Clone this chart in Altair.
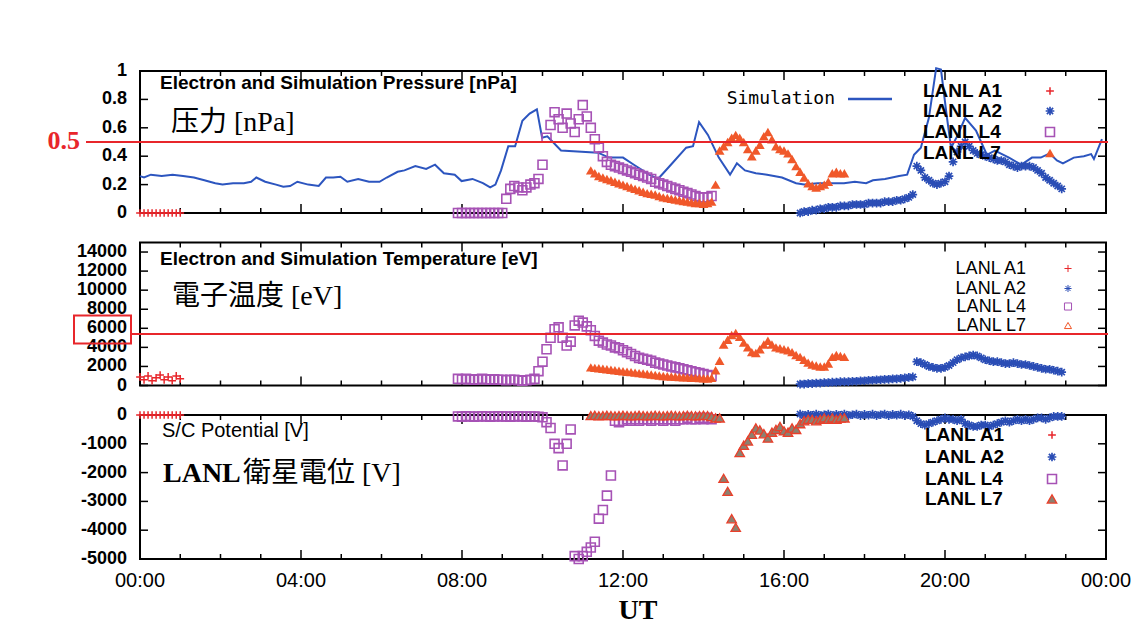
import altair as alt
import pandas as pd

# ---------------- data (hours UT) ----------------
sim_t = [0.0, 0.1, 0.27, 0.54, 0.81, 1.07, 1.34, 1.6, 1.87, 2.05,
         2.31, 2.58, 2.76, 2.89, 3.11, 3.38, 3.56, 3.73, 3.91, 4.18,
         4.44, 4.62, 4.8, 4.98, 5.15, 5.42, 5.69, 5.95, 6.13, 6.4,
         6.57, 6.84, 7.11, 7.33, 7.55, 7.82, 7.99, 8.26, 8.52, 8.7,
         8.83, 8.97, 9.15, 9.32, 9.5, 9.68, 9.86, 9.99, 10.12, 10.46,
         11.38, 11.65, 12.0, 12.27, 12.65, 12.87, 13.19, 13.57, 13.74, 13.89,
         14.11, 14.38, 14.66, 14.83, 15.03, 15.3, 15.58, 15.95, 16.3, 16.5,
         16.84, 17.04, 17.49, 17.76, 18.04, 18.21, 18.51, 18.86, 19.06, 19.23,
         19.4, 19.6, 19.78, 19.9, 20.05, 20.15, 20.32, 20.5, 20.77, 21.04,
         21.24, 21.59, 21.89, 22.16, 22.38, 22.6, 22.78, 22.93, 23.2, 23.45,
         23.63, 23.7, 23.9]
sim_p = [0.26, 0.25, 0.27, 0.26, 0.27, 0.26, 0.25, 0.23, 0.21, 0.20,
         0.21, 0.21, 0.22, 0.25, 0.22, 0.20, 0.185, 0.19, 0.22, 0.20,
         0.19, 0.25, 0.25, 0.255, 0.22, 0.24, 0.22, 0.22, 0.25, 0.29,
         0.30, 0.33, 0.31, 0.34, 0.28, 0.27, 0.225, 0.24, 0.21, 0.18,
         0.20, 0.30, 0.47, 0.47, 0.65, 0.70, 0.73, 0.53, 0.54, 0.44,
         0.425, 0.39, 0.39, 0.34, 0.27, 0.24, 0.34, 0.46, 0.47, 0.64,
         0.55, 0.39, 0.27, 0.35, 0.30, 0.28, 0.27, 0.25, 0.21, 0.20,
         0.21, 0.21, 0.21, 0.22, 0.21, 0.23, 0.24, 0.26, 0.27, 0.41,
         0.46, 0.67, 1.02, 1.01, 0.67, 0.46, 0.55, 0.67, 0.58, 0.41,
         0.44, 0.39, 0.34, 0.39, 0.39, 0.42, 0.37, 0.35, 0.39, 0.40,
         0.415, 0.38, 0.52]

# LANL A1
a1_t = [0.0, 0.1, 0.2, 0.3, 0.4, 0.5, 0.6, 0.7, 0.8, 0.9, 1.0]
a1_p = [0, 0, 0, 0, 0, 0, 0, 0, 0, 0, 0]
a1_T = [900, 600, 1000, 500, 800, 1100, 600, 900, 500, 1000, 700]
a1_V = [0, 0, 0, 0, 0, 0, 0, 0, 0, 0, 0]

# LANL L4
l4_t = [7.9, 8.0, 8.1, 8.2, 8.3, 8.4, 8.5, 8.6, 8.7, 8.8, 8.9, 9.0,
        9.1, 9.2, 9.3, 9.4, 9.5, 9.6, 9.7, 9.8, 9.9, 10.0,
        10.1, 10.2, 10.3, 10.4, 10.5, 10.6, 10.7, 10.8, 10.9, 11.0,
        11.1, 11.2, 11.3, 11.4, 11.5, 11.6, 11.7, 11.8, 11.9, 12.0,
        12.1, 12.2, 12.3, 12.4, 12.5, 12.6, 12.7, 12.8, 12.9, 13.0,
        13.1, 13.2, 13.3, 13.4, 13.5, 13.6, 13.7, 13.8, 13.9, 14.0,
        14.1, 14.2]
l4_p = [0, 0, 0, 0, 0, 0, 0, 0, 0, 0, 0, 0,
        0.10, 0.17, 0.19, 0.18, 0.16, 0.18, 0.20, 0.21, 0.24, 0.34,
        0.53, 0.62, 0.71, 0.66, 0.60, 0.70, 0.63, 0.57, 0.66, 0.76,
        0.68, 0.60, 0.52, 0.46, 0.40, 0.36, 0.34, 0.33, 0.32, 0.31,
        0.30, 0.29, 0.28, 0.27, 0.26, 0.25, 0.24, 0.22, 0.21, 0.20,
        0.19, 0.18, 0.17, 0.16, 0.15, 0.14, 0.13, 0.12, 0.11, 0.11,
        0.11, 0.12]
l4_T = [700, 650, 700, 650, 600, 650, 700, 650, 600, 650, 600, 600,
        550, 600, 600, 550, 500, 550, 600, 700, 1500, 2500,
        3800, 5000, 5900, 6100, 5000, 4200, 4600, 6300, 6800, 6600,
        6200, 5800, 5200, 4700, 4500, 4300, 4200, 4000, 3900, 3700,
        3500, 3300, 3100, 2900, 2800, 2700, 2600, 2400, 2300, 2200,
        2100, 2000, 1900, 1800, 1700, 1600, 1500, 1400, 1300, 1200,
        1100, 1000]
l4_V = [-50, -60, -40, -50, -60, -50, -40, -50, -60, -50, -40, -50,
        -50, -60, -50, -40, -50, -60, -50, -50, -60, -80,
        -250, -450, -1000, -1150, -1750, -1000, -500, -4900, -5000, -4900,
        -4750, -4600, -4400, -3600, -3300, -2800, -2100, -200, -250, -200,
        -150, -200, -150, -200, -150, -150, -200, -150, -150, -200,
        -150, -150, -200, -150, -150, -100, -150, -150, -100, -150,
        -100, -150]

# LANL L7
l7_t = [11.2, 11.3, 11.4, 11.5, 11.6, 11.7, 11.8, 11.9, 12.0,
        12.1, 12.2, 12.3, 12.4, 12.5, 12.6, 12.7, 12.8, 12.9, 13.0,
        13.1, 13.2, 13.3, 13.4, 13.5, 13.6, 13.7, 13.8, 13.9, 14.0,
        14.1, 14.2, 14.3, 14.4, 14.5, 14.6, 14.7, 14.8, 14.9, 15.0,
        15.1, 15.2, 15.3, 15.4, 15.5, 15.6, 15.7, 15.8, 15.9, 16.0,
        16.1, 16.2, 16.3, 16.4, 16.5, 16.6, 16.7, 16.8, 16.9, 17.0,
        17.1, 17.2, 17.3, 17.4, 17.5]
l7_p = [0.30, 0.28, 0.26, 0.25, 0.24, 0.23, 0.22, 0.21, 0.20,
        0.19, 0.18, 0.17, 0.16, 0.15, 0.14, 0.135, 0.13, 0.12, 0.11,
        0.105, 0.10, 0.095, 0.09, 0.085, 0.08, 0.075, 0.07, 0.07, 0.065,
        0.07, 0.08, 0.20, 0.44, 0.47, 0.50, 0.53, 0.55, 0.53, 0.50,
        0.45, 0.40, 0.44, 0.48, 0.54, 0.57, 0.52, 0.47, 0.45, 0.44,
        0.42, 0.38, 0.33, 0.29, 0.25, 0.21, 0.19, 0.18, 0.19, 0.20,
        0.22, 0.28, 0.29, 0.28, 0.28]
l7_T = [1900, 1850, 1800, 1750, 1700, 1650, 1600, 1550, 1500,
        1450, 1400, 1350, 1300, 1250, 1200, 1150, 1100, 1050, 1000,
        980, 950, 920, 900, 870, 850, 820, 800, 780, 760,
        740, 800, 1600, 2600, 4300, 4800, 5300, 5500, 5100, 4500,
        4000, 3500, 3400, 3800, 4300, 4700, 4300, 4000, 3900, 3800,
        3700, 3500, 3200, 3000, 2700, 2400, 2200, 2100, 2000, 2000,
        2300, 3000, 3200, 3100, 3000]
l7_V = [-20, -10, -30, -20, -10, -20, -30, -20, -10,
        -20, -30, -20, -10, -20, -30, -20, -10, -20, -30,
        -20, -10, -20, -30, -20, -10, -20, -30, -20, -10,
        -20, -50, -100, -100, -2200, -2650, -3600, -3900, -1300, -1050,
        -900, -670, -450, -520, -650, -800, -600, -500, -400, -550,
        -600, -450, -500, -300, -200, -150, -150, -200, -150, -100,
        -150, -100, -150, -100, -100]

# LANL A2
a2_t = [16.4, 16.5, 16.6, 16.7, 16.8, 16.9, 17.0,
        17.1, 17.2, 17.3, 17.4, 17.5, 17.6, 17.7, 17.8, 17.9, 18.0,
        18.1, 18.2, 18.3, 18.4, 18.5, 18.6, 18.7, 18.8, 18.9, 19.0,
        19.1, 19.2, 19.3, 19.4, 19.5, 19.6, 19.7, 19.8, 19.9, 20.0,
        20.1, 20.2, 20.3, 20.4, 20.5, 20.6, 20.7, 20.8, 20.9, 21.0,
        21.1, 21.2, 21.3, 21.4, 21.5, 21.6, 21.7, 21.8, 21.9, 22.0,
        22.1, 22.2, 22.3, 22.4, 22.5, 22.6, 22.7, 22.8, 22.9]
a2_p = [0.00, 0.01, 0.01, 0.02, 0.02, 0.03, 0.03,
        0.04, 0.04, 0.04, 0.05, 0.05, 0.05, 0.06, 0.06, 0.06, 0.06,
        0.07, 0.07, 0.07, 0.07, 0.08, 0.08, 0.08, 0.09, 0.09, 0.10,
        0.11, 0.13, 0.33, 0.30, 0.25, 0.23, 0.21, 0.20, 0.21, 0.22,
        0.26, 0.36, 0.43, 0.47, 0.50, 0.47, 0.44, 0.42, 0.41, 0.40,
        0.39, 0.38, 0.37, 0.37, 0.36, 0.34, 0.33, 0.32, 0.33, 0.33,
        0.33, 0.32, 0.30, 0.28, 0.25, 0.23, 0.21, 0.19, 0.17]
a2_T = [150, 150, 200, 200, 250, 250, 300,
        300, 350, 350, 400, 400, 400, 450, 450, 500, 500,
        550, 550, 600, 600, 650, 650, 700, 700, 750, 800,
        850, 900, 2500, 2400, 2200, 2000, 1900, 1800, 1800, 1900,
        2100, 2400, 2700, 2900, 3000, 3100, 3200, 3100, 2900, 2700,
        2600, 2500, 2500, 2400, 2300, 2300, 2400, 2300, 2200, 2200,
        2100, 2000, 1900, 1800, 1700, 1700, 1600, 1500, 1400]
a2_V = [30, -20, 20, -10, 30, -20, 10,
        30, -20, 20, -10, 30, -20, 10, 30, -20, 20,
        -10, 30, -20, 10, 30, -20, 20, -10, 30, -20,
        10, -50, -200, -300, -350, -300, -250, -200, -150, -100,
        -150, -150, -200, -150, -300, -350, -400, -400, -350, -350,
        -400, -350, -300, -250, -200, -250, -200, -150, -200, -150,
        -200, -150, -100, -100, -150, -100, -50, -50, -50]

legend_labels = ["LANL A1", "LANL A2", "LANL L4", "LANL L7"]
pressure_ref = 0.5
temp_ref = 5400
p_ticks = [0, 0.2, 0.4, 0.6, 0.8, 1]
p_labels = ["0", "0.2", "0.4", "0.6", "0.8", "1"]
T_ticks = [0, 2000, 4000, 6000, 8000, 10000, 12000, 14000]
T_labels = ["0", "2000", "4000", "6000", "8000", "10000", "12000", "14000"]
V_ticks = [-5000, -4000, -3000, -2000, -1000, 0]
V_labels = ["-5000", "-4000", "-3000", "-2000", "-1000", "0"]
hour_major = [0, 4, 8, 12, 16, 20, 24]
hour_labels = ["00:00", "04:00", "08:00", "12:00", "16:00", "20:00", "00:00"]
hour_minor = [1, 2, 3, 5, 6, 7, 9, 10, 11, 13, 14, 15, 17, 18, 19, 21, 22, 23]

# ---------------- style ----------------
W = 966
H_TOP, H_MID, H_BOT = 142, 143, 144
RED = "#e8262b"
BLUE = "#2a4db5"
PURPLE = "#a652b5"
ORANGE = "#f0582a"
SIMC = "#2c55bf"
PLUS = "M-1,0L1,0M0,-1L0,1"
STAR = "M-1,0L1,0M0,-1L0,1M-0.72,-0.72L0.72,0.72M-0.72,0.72L0.72,-0.72"
SANS = "Liberation Sans"
SERIF_CJK = "Liberation Serif, Noto Sans CJK JP"

one = pd.DataFrame({"k": [0]})


def xs():
    return alt.X("t:Q", scale=alt.Scale(domain=[0, 24], nice=False, zero=False), axis=None)


def ys(dom):
    return alt.Y("v:Q", scale=alt.Scale(domain=dom, nice=False, zero=False), axis=None)


def frame_layers(dom, yvals, ylabels, h, xlabels=False):
    maj = pd.DataFrame({"t": hour_major})
    mnr = pd.DataFrame({"t": hour_minor})
    yv = pd.DataFrame({"v": yvals, "lab": ylabels})
    tk = dict(color="black", strokeWidth=1.5)
    layers = [
        alt.Chart(maj).mark_rule(**tk).encode(x=xs(), y=alt.value(h), y2=alt.value(h - 9)),
        alt.Chart(maj).mark_rule(**tk).encode(x=xs(), y=alt.value(0), y2=alt.value(9)),
        alt.Chart(mnr).mark_rule(**tk).encode(x=xs(), y=alt.value(h), y2=alt.value(h - 5)),
        alt.Chart(mnr).mark_rule(**tk).encode(x=xs(), y=alt.value(0), y2=alt.value(5)),
        alt.Chart(yv).mark_rule(**tk).encode(y=ys(dom), x=alt.value(0), x2=alt.value(8)),
        alt.Chart(yv).mark_rule(**tk).encode(y=ys(dom), x=alt.value(W - 8), x2=alt.value(W)),
        alt.Chart(yv).mark_text(font=SANS, fontSize=18, fontWeight="bold", color="black",
                                align="right", baseline="middle").encode(
            y=ys(dom), x=alt.value(-13), text=alt.Text("lab:N")),
    ]
    if xlabels:
        xl = pd.DataFrame({"t": hour_major, "lab": hour_labels})
        layers.append(
            alt.Chart(xl).mark_text(font=SANS, fontSize=20, color="black", align="center",
                                    baseline="middle").encode(
                x=xs(), y=alt.value(h + 22), text=alt.Text("lab:N")))
    return layers


def pts(t, v, dom, **mk):
    d = pd.DataFrame({"t": t, "v": v})
    return alt.Chart(d).mark_point(opacity=1, **mk).encode(x=xs(), y=ys(dom))


def txt(s, x, y, size, color="black", font=SANS, weight="normal", align="left"):
    return alt.Chart(one).mark_text(text=s, font=font, fontSize=size, fontWeight=weight,
                                    color=color, align=align, baseline="middle").encode(
        x=alt.value(x), y=alt.value(y))


def sym(x, y, **mk):
    return alt.Chart(one).mark_point(opacity=1, **mk).encode(x=alt.value(x), y=alt.value(y))


A1S = dict(shape=PLUS, filled=False, color=RED, size=60, strokeWidth=1.5)
A2S = dict(shape=STAR, filled=False, color=BLUE, size=75, strokeWidth=1.7)
L4S = dict(shape="square", filled=False, color=PURPLE, size=80, strokeWidth=1.6)
L7S = dict(shape="triangle-up", filled=True, color=ORANGE, size=95)
L7B = dict(shape="triangle-up", filled=True, fill="#8d8070", stroke="#ea3f2a",
           strokeWidth=1.3, size=90)

# ---------------- top panel: pressure ----------------
pdom = [0, 1]
top_layers = frame_layers(pdom, p_ticks, p_labels, H_TOP)
top_layers += [
    alt.Chart(pd.DataFrame({"t": sim_t, "v": sim_p})).mark_line(color=SIMC, strokeWidth=2).encode(
        x=xs(), y=ys(pdom)),
    pts(a1_t, a1_p, pdom, **A1S),
    pts(a2_t, a2_p, pdom, **A2S),
    pts(l4_t, l4_p, pdom, **L4S),
    pts(l7_t, l7_p, pdom, **L7S),
    txt("Electron and Simulation Pressure [nPa]", 20, 12, 19, weight="bold"),
    txt("压力 [nPa]", 31, 52, 28, font=SERIF_CJK),
    txt("Simulation", 695, 28, 18, font="DejaVu Sans Mono", align="right"),
    alt.Chart(one).mark_rule(color=SIMC, strokeWidth=2.5).encode(
        x=alt.value(708), x2=alt.value(752), y=alt.value(28)),
]
for lab, yy in zip(legend_labels, [20, 40, 61, 82]):
    top_layers.append(txt(lab, 783, yy, 19, weight="bold"))
top_layers += [sym(910, 20, **A1S), sym(910, 40, **A2S), sym(910, 61, **L4S), sym(910, 82, **L7S)]
top_layers += [
    alt.Chart(pd.DataFrame({"v": [pressure_ref]})).mark_rule(color=RED, strokeWidth=2).encode(
        y=ys(pdom), x=alt.value(-54), x2=alt.value(W + 2)),
    txt("0.5", -60, 70, 26, color=RED, font="Liberation Serif", weight="bold", align="right"),
]
top = alt.layer(*top_layers).properties(width=W, height=H_TOP)

# ---------------- middle panel: temperature ----------------
tdom = [0, 15000]
mid_layers = frame_layers(tdom, T_ticks, T_labels, H_MID)
mid_layers += [
    pts(a1_t, a1_T, tdom, **A1S),
    pts(a2_t, a2_T, tdom, **A2S),
    pts(l4_t, l4_T, tdom, **L4S),
    pts(l7_t, l7_T, tdom, **L7S),
    txt("Electron and Simulation Temperature [eV]", 20, 16, 19, weight="bold"),
    txt("電子温度 [eV]", 32, 54, 28, font=SERIF_CJK),
]
for lab, yy in zip(legend_labels, [26, 46, 64, 83]):
    mid_layers.append(txt(lab, 886, yy, 18, align="right"))
mid_layers += [
    sym(928, 26, shape=PLUS, filled=False, color=RED, size=50, strokeWidth=1),
    sym(928, 46, shape=STAR, filled=False, color=BLUE, size=50, strokeWidth=1),
    sym(928, 64, shape="square", filled=False, color=PURPLE, size=50, strokeWidth=1),
    sym(928, 83, shape="triangle-up", filled=False, color=ORANGE, size=50, strokeWidth=1),
    alt.Chart(pd.DataFrame({"v": [temp_ref]})).mark_rule(color=RED, strokeWidth=2).encode(
        y=ys(tdom), x=alt.value(-9), x2=alt.value(W + 2)),
    alt.Chart(one).mark_rect(filled=False, color=RED, strokeWidth=2).encode(
        x=alt.value(-66), x2=alt.value(-9), y=alt.value(73), y2=alt.value(101)),
]
mid = alt.layer(*mid_layers).properties(width=W, height=H_MID)

# ---------------- bottom panel: potential ----------------
vdom = [-5000, 0]
bot_layers = frame_layers(vdom, V_ticks, V_labels, H_BOT, xlabels=True)
bot_layers += [
    pts(a1_t, a1_V, vdom, **A1S),
    pts(a2_t, a2_V, vdom, **A2S),
    pts(l4_t, l4_V, vdom, **L4S),
    pts(l7_t, l7_V, vdom, **L7B),
    txt("S/C Potential [V]", 22, 16, 20),
    txt("LANL", 23, 59, 28, font="Liberation Serif", weight="bold"),
    txt("衛星電位 [V]", 103, 59, 28, font=SERIF_CJK),
    txt("UT", 498, 196, 28, font="Liberation Serif", weight="bold", align="center"),
]
for lab, yy in zip(legend_labels, [20, 42, 64, 84]):
    bot_layers.append(txt(lab, 785, yy, 19, weight="bold"))
bot_layers += [sym(912, 20, **A1S), sym(912, 42, **A2S), sym(912, 64, **L4S), sym(912, 84, **L7B)]
bot = alt.layer(*bot_layers).properties(width=W, height=H_BOT)

chart = alt.vconcat(top, mid, bot, spacing=29.5, bounds="flush").properties(
    padding={"left": 46, "top": 61, "right": 2, "bottom": 2},
    background="white",
).configure_view(stroke="black", strokeWidth=2)

chart.save("out.html", embed_options={"renderer": "svg", "actions": False})
